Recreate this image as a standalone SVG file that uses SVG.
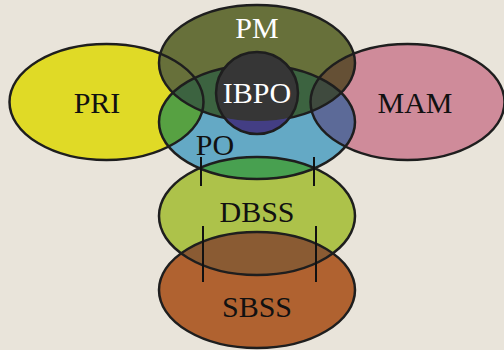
<svg xmlns="http://www.w3.org/2000/svg" xmlns:xlink="http://www.w3.org/1999/xlink" width="504" height="350" viewBox="0 0 504 350">
<style>
.lbl{font-family:"Liberation Serif","Times New Roman",serif;font-size:30px;text-anchor:middle}
.dark{fill:#111}
.light{fill:#fff}
.ol{fill:none;stroke:#1e1e1e;stroke-width:2.5}
.tick{stroke:#111;stroke-width:2}
</style>
<defs>
<ellipse id="ePRI" cx="106.5" cy="102" rx="97" ry="58"/>
<ellipse id="eMAM" cx="407.5" cy="102" rx="97" ry="58"/>
<ellipse id="ePM" cx="257" cy="63" rx="98" ry="58"/>
<ellipse id="ePO" cx="257" cy="122" rx="98" ry="57"/>
<ellipse id="eDBSS" cx="257" cy="216" rx="98" ry="59"/>
<ellipse id="eSBSS" cx="257" cy="290" rx="98" ry="58"/>
<circle id="eIBPO" cx="257" cy="93" r="41"/>
<clipPath id="cPRI"><use xlink:href="#ePRI"/></clipPath>
<clipPath id="cMAM"><use xlink:href="#eMAM"/></clipPath>
<clipPath id="cPM"><use xlink:href="#ePM"/></clipPath>
<clipPath id="cPO"><use xlink:href="#ePO"/></clipPath>
<clipPath id="cDBSS"><use xlink:href="#eDBSS"/></clipPath>
</defs>
<rect width="504" height="350" fill="#e9e4da"/>
<g id="fills">
<use xlink:href="#ePRI" fill="#e0da26"/>
<use xlink:href="#eMAM" fill="#cf8b9a"/>
<use xlink:href="#ePM" fill="#67703a"/>
<use xlink:href="#ePO" fill="#64a9c5"/>
<use xlink:href="#eSBSS" fill="#b06230"/>
<use xlink:href="#eDBSS" fill="#adc24a"/>
<g clip-path="url(#cPO)">
<use xlink:href="#ePRI" fill="#57a142"/>
<use xlink:href="#eMAM" fill="#5c6a98"/>
<use xlink:href="#ePM" fill="#3c6340"/>
<use xlink:href="#eDBSS" fill="#48a050"/>
</g>
<g clip-path="url(#cMAM)">
<use xlink:href="#ePM" fill="#655035"/>
<g clip-path="url(#cPO)"><use xlink:href="#ePM" fill="#3f4a3e"/></g>
</g>
<g clip-path="url(#cDBSS)"><use xlink:href="#eSBSS" fill="#8a5b33"/></g>
</g>
<g id="outlines">
<use xlink:href="#ePRI" class="ol"/>
<use xlink:href="#eMAM" class="ol"/>
<use xlink:href="#ePM" class="ol"/>
<use xlink:href="#ePO" class="ol"/>
<use xlink:href="#eDBSS" class="ol"/>
<use xlink:href="#eSBSS" class="ol"/>
</g>
<g id="IBPO">
<use xlink:href="#eIBPO" fill="#433e84"/>
<g clip-path="url(#cPM)"><use xlink:href="#eIBPO" fill="#363636"/></g>
<use xlink:href="#eIBPO" class="ol"/>
<text class="lbl light" x="257" y="103">IBPO</text>
</g>
<g id="PRI"><text class="lbl dark" x="97" y="113">PRI</text></g>
<g id="MAM"><text class="lbl dark" x="415" y="113">MAM</text></g>
<g id="PM"><text class="lbl light" x="257" y="38">PM</text></g>
<g id="PO"><text class="lbl dark" x="215" y="155">PO</text></g>
<g id="DBSS"><text class="lbl dark" x="257" y="222">DBSS</text></g>
<g id="SBSS"><text class="lbl dark" x="257" y="317">SBSS</text></g>
<g id="connectors">
<line class="tick" x1="201" y1="157" x2="201" y2="186"/>
<line class="tick" x1="314" y1="157" x2="314" y2="186"/>
<line class="tick" x1="203" y1="226" x2="203" y2="282"/>
<line class="tick" x1="316" y1="226" x2="316" y2="282"/>
</g>
</svg>
